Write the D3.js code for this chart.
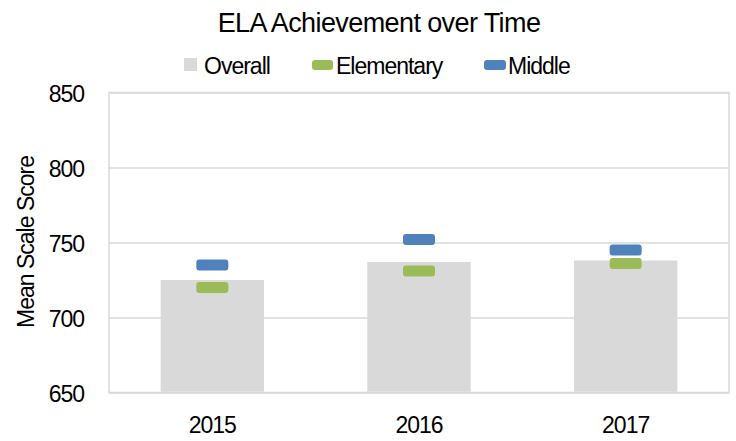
<!DOCTYPE html>
<html>
<head>
<meta charset="utf-8">
<script src="https://cdn.jsdelivr.net/npm/d3@7"></script>
<style>
  body { margin: 0; background: #fff; }
  text { font-family: "Liberation Sans", Arial, sans-serif; fill: #000; }
</style>
</head>
<body>
<div id="chart"></div>
<script>
var years = ['2015', '2016', '2017'];
var overall = [725, 737, 738];
var elementary = [720, 731, 736];
var middle = [735, 752, 745];
var y_ticks = [650, 700, 750, 800, 850];

var chart_width = 736;
var chart_height = 441;

var svg = d3.select('#chart')
    .append('svg')
    .attr('width', chart_width)
    .attr('height', chart_height)

var plot_left = 109, plot_right = 729, plot_top = 92.5, plot_bottom = 392.5;

var x_scale = d3.scaleBand()
    .domain(years)
    .range([plot_left, plot_right])
    .paddingInner(0.5)
    .paddingOuter(0.25)

var y_scale = d3.scaleLinear()
    .domain([650, 850])
    .range([plot_bottom, plot_top])

// gridlines
svg.append('g')
    .attr('transform', 'translate(' + plot_left + ',0)')
    .call(d3.axisLeft(y_scale).tickValues(y_ticks).tickSize(-(plot_right - plot_left)).tickFormat(''))
    .call(function (g) {
        g.select('.domain').remove()
        g.selectAll('line').attr('stroke', '#d9d9d9').attr('stroke-width', 1.5)
    })

// plot border
svg.append('rect')
    .attr('x', plot_left)
    .attr('y', plot_top)
    .attr('width', plot_right - plot_left)
    .attr('height', plot_bottom - plot_top)
    .attr('fill', 'none')
    .attr('stroke', '#d9d9d9')
    .attr('stroke-width', 1.5)

// bars
svg.selectAll('rect.bar')
    .data(overall)
    .enter()
    .append('rect')
    .attr('class', 'bar')
    .attr('x', function (d, i) { return x_scale(years[i]) })
    .attr('y', function (d) { return y_scale(d) })
    .attr('width', x_scale.bandwidth())
    .attr('height', function (d) { return plot_bottom - y_scale(d) - 0.75 })
    .attr('fill', '#d9d9d9')

// markers
function markers(values, color) {
    svg.selectAll(null)
        .data(values)
        .enter()
        .append('rect')
        .attr('x', function (d, i) { return x_scale(years[i]) + x_scale.bandwidth() / 2 - 16 })
        .attr('y', function (d) { return y_scale(d) - 5.5 })
        .attr('width', 32)
        .attr('height', 11)
        .attr('rx', 3)
        .attr('fill', color)
}
markers(elementary, '#9bbb59')
markers(middle, '#4f81bd')

// y tick labels
svg.selectAll('text.ytick')
    .data(y_ticks)
    .enter()
    .append('text')
    .attr('class', 'ytick')
    .attr('x', 84)
    .attr('y', function (d) { return y_scale(d) + 9 })
    .attr('text-anchor', 'end')
    .attr('font-size', 23)
    .attr('letter-spacing', -1)
    .text(function (d) { return d })

// x tick labels
svg.selectAll('text.xtick')
    .data(years)
    .enter()
    .append('text')
    .attr('class', 'xtick')
    .attr('x', function (d) { return x_scale(d) + x_scale.bandwidth() / 2 })
    .attr('y', 433)
    .attr('text-anchor', 'middle')
    .attr('font-size', 23)
    .attr('letter-spacing', -1)
    .text(function (d) { return d })

// axis title
svg.append('text')
    .attr('transform', 'translate(34,242) rotate(-90)')
    .attr('text-anchor', 'middle')
    .attr('font-size', 23)
    .attr('letter-spacing', -1)
    .text('Mean Scale Score')

// chart title
svg.append('text')
    .attr('x', 379)
    .attr('y', 32)
    .attr('text-anchor', 'middle')
    .attr('font-size', 27)
    .attr('letter-spacing', -0.6)
    .text('ELA Achievement over Time')

// legend
svg.append('rect')
    .attr('x', 184).attr('y', 58).attr('width', 13).attr('height', 13)
    .attr('fill', '#d9d9d9')
svg.append('rect')
    .attr('x', 312).attr('y', 60).attr('width', 21).attr('height', 10).attr('rx', 3)
    .attr('fill', '#9bbb59')
svg.append('rect')
    .attr('x', 484).attr('y', 60).attr('width', 22).attr('height', 10).attr('rx', 3)
    .attr('fill', '#4f81bd')

var legend_labels = [['Overall', 204], ['Elementary', 336], ['Middle', 508]];
svg.selectAll('text.legend')
    .data(legend_labels)
    .enter()
    .append('text')
    .attr('class', 'legend')
    .attr('x', function (d) { return d[1] })
    .attr('y', 74)
    .attr('font-size', 23)
    .attr('letter-spacing', -1)
    .text(function (d) { return d[0] })
</script>
</body>
</html>
